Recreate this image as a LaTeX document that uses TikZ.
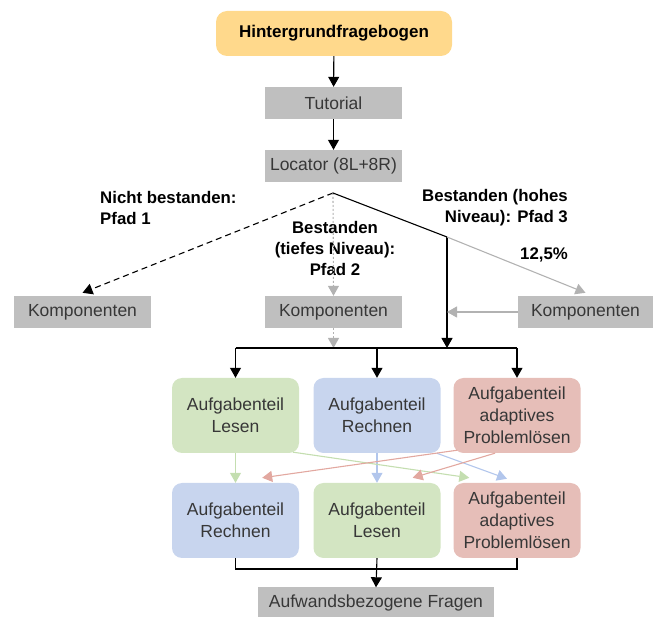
\documentclass[tikz,border=0pt]{standalone}
\usepackage{fontspec}
\setmainfont{Liberation Sans}
\usetikzlibrary{arrows.meta,calc}
\definecolor{boxgray}{RGB}{191,191,191}
\definecolor{txt}{RGB}{55,55,55}
\definecolor{hyellow}{RGB}{255,217,140}
\definecolor{bgreen}{RGB}{211,229,194}
\definecolor{bblue}{RGB}{200,213,238}
\definecolor{bred}{RGB}{230,190,184}
\definecolor{agreen}{RGB}{196,222,176}
\definecolor{ablue}{RGB}{178,198,236}
\definecolor{ared}{RGB}{226,168,160}
\definecolor{agray}{RGB}{178,178,178}
\tikzset{
  gbox/.style={fill=boxgray, text=txt, minimum width=137pt, minimum height=32pt, inner sep=0pt, font=\fontsize{17.5}{20}\selectfont},
  cbox/.style={rounded corners=10pt, text=txt, minimum width=127pt, minimum height=75pt, inner sep=0pt, align=center, font=\fontsize{17.5}{22}\selectfont},
  lbl/.style={font=\bfseries\fontsize{16.8}{21}\selectfont, text=black, inner sep=0pt},
  tipb/.style={-{Triangle[length=10pt,width=11pt]}},
  tipg/.style={-{Triangle[length=10pt,width=11pt]}},
  thinarrow/.style={line width=1.1pt},
}
\begin{document}
\begin{tikzpicture}[x=1pt,y=-1pt]
\useasboundingbox (0,0) rectangle (654,617);
% nodes
\node[fill=hyellow, rounded corners=11pt, minimum width=236pt, minimum height=45pt, inner sep=0pt, font=\bfseries\fontsize{17}{20}\selectfont] (hint) at (334,33.5) {Hintergrundfragebogen};
\node[gbox] (tut) at (333.5,103) {Tutorial};
\node[gbox] (loc) at (333.5,166) {Locator (8L+8R)};
\node[gbox] (k1) at (82.5,312) {Komponenten};
\node[gbox] (k2) at (333.5,312) {Komponenten};
\node[gbox, minimum width=135pt] (k3) at (585.5,312) {Komponenten};
\node[cbox, fill=bgreen] (l1) at (235.5,415.5) {Aufgabenteil\\Lesen};
\node[cbox, fill=bblue] (r1) at (377,415.5) {Aufgabenteil\\Rechnen};
\node[cbox, fill=bred] (p1) at (517,415.5) {Aufgabenteil\\adaptives\\Problemlösen};
\node[cbox, fill=bblue] (b2) at (235.5,520.5) {Aufgabenteil\\Rechnen};
\node[cbox, fill=bgreen] (g2) at (377,520.5) {Aufgabenteil\\Lesen};
\node[cbox, fill=bred] (p2) at (517,520.5) {Aufgabenteil\\adaptives\\Problemlösen};
\node[gbox, minimum width=236pt, minimum height=31pt] (auf) at (376,603) {Aufwandsbezogene Fragen};
% labels
\node[lbl, align=left, anchor=west] (lab1) at (100,207.5) {Nicht bestanden:\\Pfad 1};
\node[lbl, align=right, anchor=east] (lab3) at (568,207.5) {Bestanden (hohes\\Niveau): Pfad 3};
\node[lbl, align=center] (lab2) at (335,248) {Bestanden\\(tiefes Niveau):\\Pfad 2};
\node[lbl] (lab4) at (544,255) {12,5\%};
% coordinates
\coordinate (split) at (333,193);
\coordinate (bend) at (447,237);
\coordinate (j3) at (447,348);
\coordinate (barL) at (235.5,348);
\coordinate (barR) at (517,348);
\coordinate (jl) at (235.5,569);
\coordinate (jr) at (517,569);
% connectors top
\draw[thinarrow, tipb] (hint) -- (tut);
\draw[thinarrow, tipb] (tut) -- (loc);
\draw[thinarrow, dashed, dash pattern=on 6pt off 4pt, tipb] (split) -- ([yshift=3pt]k1.north);
\draw[thinarrow, agray, dash pattern=on 2pt off 2pt, tipg] (split) -- (k2.north);
\draw[thinarrow] (split) -- (bend);
\draw[thinarrow, tipb] (bend) -- (j3);
\draw[thinarrow, agray, tipg] (bend) -- ([yshift=3pt]k3.north);
\draw[thinarrow, agray, tipg] (k3.west) -- (bend |- k3.west);
\draw[thinarrow, agray, dash pattern=on 2pt off 2pt, tipg] (k2.south) -- (k2.south |- barL);
\draw[thinarrow] (barL) -- (barR);
\draw[thinarrow, tipb] (barL) -- (l1.north);
\draw[thinarrow, tipb] (r1.north |- barL) -- (r1.north);
\draw[thinarrow, tipb] (barR) -- (p1.north);
% middle arrows
\draw[thinarrow, agreen, tipg] (l1.south) -- (b2.north);
\draw[thinarrow, ablue, tipg] (r1.south) -- (g2.north);
\draw[thinarrow, agreen, tipg] ([xshift=-6pt,yshift=1pt]l1.south east) -- ([xshift=16pt,yshift=5pt]p2.north west);
\draw[thinarrow, ablue, tipg] ([xshift=-4pt]r1.south east) -- ([xshift=-10pt,yshift=4pt]p2.north);
\draw[thinarrow, ared, tipg] ([xshift=4pt,yshift=3pt]p1.south west) -- ([xshift=-37pt,yshift=5pt]b2.north east);
\draw[thinarrow, ared, tipg] ([xshift=-22pt]p1.south) -- ([xshift=-28pt,yshift=5pt]g2.north east);
% bottom
\draw[thinarrow] (b2.south) -- (jl) -- (jr) -- (p2.south);
\draw[thinarrow, tipb] (g2.south) -- (auf.north);
\end{tikzpicture}
\end{document}
